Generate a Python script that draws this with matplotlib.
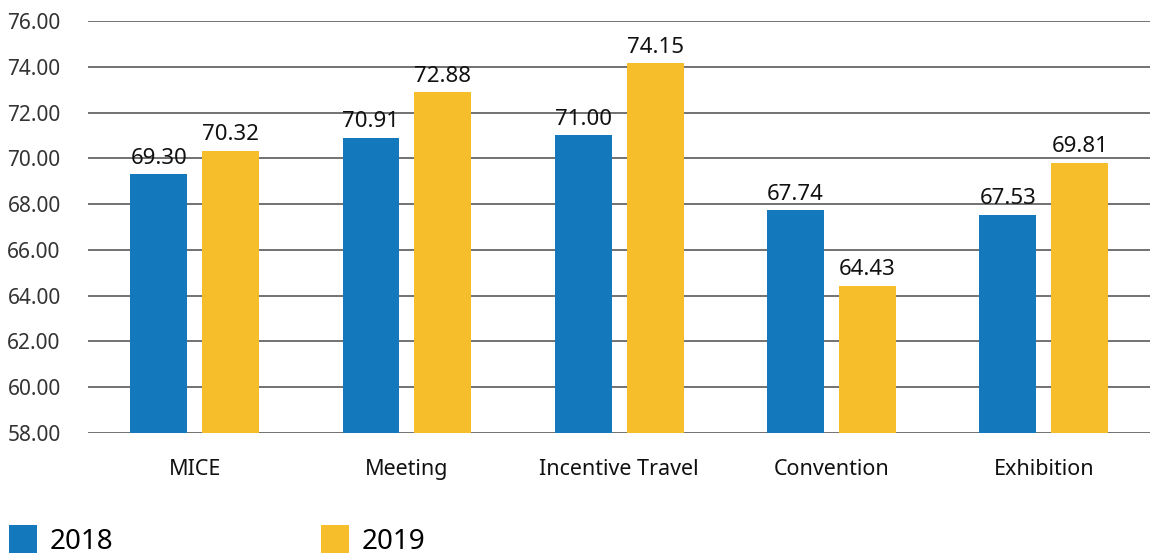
import numpy as np
import matplotlib
matplotlib.use("Agg")
import matplotlib.pyplot as plt

# data
categories = ["MICE", "Meeting", "Incentive Travel", "Convention", "Exhibition"]
vals_2018 = [69.30, 70.91, 71.00, 67.74, 67.53]
vals_2019 = [70.32, 72.88, 74.15, 64.43, 69.81]
years = ["2018", "2019"]
yticks = [58, 60, 62, 64, 66, 68, 70, 72, 74, 76]

blue = "#1479bc"
yellow = "#f7be2b"

plt.rcParams['font.family'] = ['Noto Sans', 'DejaVu Sans']

fig = plt.figure(figsize=(11.56, 5.57), dpi=100)
ax = fig.add_axes([88.5/1156, 1 - 433/557, (1150 - 88.5)/1156, 412/557])

x = np.arange(len(categories))
w = 0.268
off = 0.1695
base = 58
b1 = ax.bar(x - off, np.array(vals_2018) - base, w, bottom=base, color=blue, zorder=2, label=years[0])
b2 = ax.bar(x + off, np.array(vals_2019) - base, w, bottom=base, color=yellow, zorder=2, label=years[1])

for bars, vals in ((b1, vals_2018), (b2, vals_2019)):
    for r, v in zip(bars, vals):
        ax.annotate(f"{v:.2f}", (r.get_x() + r.get_width() / 2, v), xytext=(0, 4),
                    textcoords="offset points", ha="center", va="bottom",
                    fontsize=16, color="#111111", zorder=3)

ax.set_xlim(-0.5, len(categories) - 0.5)
ax.set_ylim(58, 76)
ax.set_yticks(yticks)
ax.set_yticklabels([f"{t:.2f}" for t in yticks], fontsize=15, color="#333333")
ax.set_xticks(x)
ax.set_xticklabels(categories, fontsize=15.5, color="#111111")
ax.tick_params(axis="both", length=0)
ax.tick_params(axis="y", pad=20)
ax.tick_params(axis="x", pad=19)
for s in ax.spines.values():
    s.set_visible(False)
ax.grid(axis="y", color="#5a5a5a", linewidth=1.2, zorder=1)
ax.set_axisbelow(True)

fig.legend(handles=[b1, b2], labels=years, loc="upper left",
           bbox_to_anchor=(9/1156, 1 - 525/557), frameon=False, ncol=2,
           fontsize=20, handlelength=1.0, handleheight=1.2, handletextpad=0.45,
           columnspacing=7.5, borderpad=0, borderaxespad=0)

fig.savefig("out.png", dpi=100)
